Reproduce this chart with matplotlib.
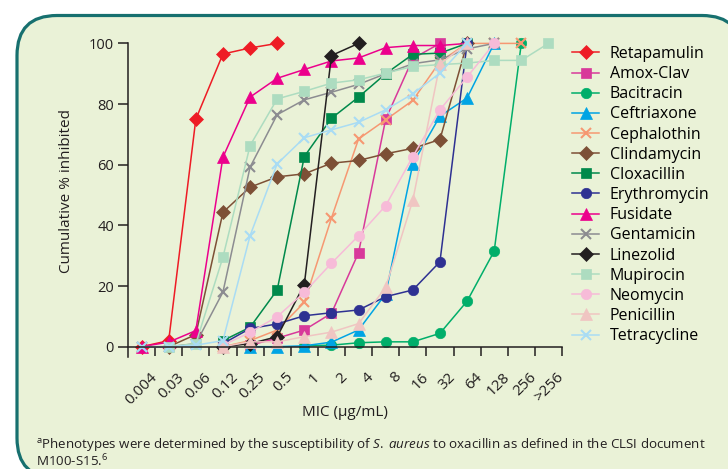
import numpy as np
import matplotlib
matplotlib.use("Agg")
import matplotlib.pyplot as plt
from matplotlib.patches import FancyBboxPatch
from matplotlib.transforms import IdentityTransform, ScaledTranslation

plt.rcParams['font.family'] = ['Open Sans', 'DejaVu Sans']
plt.rcParams['mathtext.fontset'] = 'custom'
plt.rcParams['mathtext.rm'] = 'Open Sans'
plt.rcParams['mathtext.it'] = 'Open Sans:italic'

# MIC categories (x axis)
mic_labels = ['0.004', '0.03', '0.06', '0.12', '0.25', '0.5', '1', '2', '4',
              '8', '16', '32', '64', '128', '256', '>256']

# cumulative % inhibited per MIC step (None = not tested)
N = None
retapamulin  = [0, 2, 75, 96.5, 98.5, 100, N, N, N, N, N, N, N, N, N, N]
amox_clav    = [N, N, N, N, 0.5, 2.8, 5.5, 11, 31, 75, 95, 100, N, N, N, N]
bacitracin   = [N, N, N, N, N, N, 0.3, 0.5, 1.3, 1.6, 1.6, 4.4, 15, 31.5, 100, N]
ceftriaxone  = [N, N, N, N, 0, 0, 0.3, 1.5, 5.5, 17.4, 60.3, 76, 82, 100, N, N]
cephalothin  = [N, N, N, 0, 2, 5.5, 14.6, 42.4, 68.5, 74.8, 81.2, 94, 100, 100, 100, N]
clindamycin  = [N, 0, 4, 44.3, 52.6, 56, 57, 60.5, 61.4, 63.6, 65.4, 68.3, 100, N, N, N]
cloxacillin  = [N, N, N, 2, 6.4, 18.7, 62.7, 75.3, 82.3, 90, 96.4, 96.8, 100, N, N, N]
erythromycin = [N, N, N, 1, 6, 7.5, 10.2, 11.2, 12.1, 16.5, 18.7, 28, 100, N, N, N]
fusidate     = [0, 1.5, 5.3, 62.5, 82.3, 88.5, 91.4, 94.2, 95.2, 98.6, 99.3, 99.3, 100, N, N, N]
gentamicin   = [0, 0, 1, 18, 59.2, 76.5, 81.4, 83.9, 86.5, 90, 93.3, 94.6, 98.2, 100, N, N]
linezolid    = [N, N, N, 0, 1, 3.3, 20.5, 96, 100, N, N, N, N, N, N, N]
mupirocin    = [N, 0, 1, 29.5, 66.3, 81.7, 84.2, 86.9, 88, 90.2, 92.4, 93, 93.5, 94.4, 94.4, 100]
neomycin     = [N, N, N, 0.5, 4.7, 9.9, 17.9, 27.5, 36.6, 46.5, 62.7, 78.1, 88.9, 100, N, N]
penicillin   = [N, N, N, 0, 1.6, 1.6, 3.3, 4.8, 7.6, 19.6, 48.3, 93.2, 100, N, N, N]
tetracycline = [0, 0, 0.5, 2, 36.6, 60.3, 68.9, 71.5, 74, 78.1, 83.4, 90.2, 100, N, N, N]

# (name, values, color, marker)
series = [
    ("Retapamulin", retapamulin, "#ee1c25", "D"),
    ("Amox-Clav", amox_clav, "#d8399a", "s"),
    ("Bacitracin", bacitracin, "#00ae6a", "o"),
    ("Ceftriaxone", ceftriaxone, "#00a4e4", "^"),
    ("Cephalothin", cephalothin, "#f69872", "x"),
    ("Clindamycin", clindamycin, "#7d5036", "D"),
    ("Cloxacillin", cloxacillin, "#00894b", "s"),
    ("Erythromycin", erythromycin, "#2e3192", "o"),
    ("Fusidate", fusidate, "#ec008c", "^"),
    ("Gentamicin", gentamicin, "#8c8c91", "x"),
    ("Linezolid", linezolid, "#231f20", "D"),
    ("Mupirocin", mupirocin, "#addcc0", "s"),
    ("Neomycin", neomycin, "#f7bbd8", "o"),
    ("Penicillin", penicillin, "#f0c5c2", "^"),
    ("Tetracycline", tetracycline, "#a9dcf4", "x"),
]
msizes = {"D": 7, "s": 7, "o": 7.5, "^": 8, "x": 6.5}

fig = plt.figure(figsize=(7.28, 4.69), dpi=100)

# rounded panel behind everything
panel = FancyBboxPatch((17, -9), 725, 462.5, boxstyle="round,pad=0,rounding_size=40",
                       transform=IdentityTransform(), facecolor="#eaf2d7",
                       edgecolor="#17706f", linewidth=2.3, zorder=-10)
fig.patches.append(panel)

ax = fig.add_axes([128 / 728, (469 - 356.7) / 469, 434 / 728, 313.3 / 469])
ax.set_facecolor("none")
ax.set_zorder(5)

x = np.arange(len(mic_labels))
for name, vals, col, mk in series:
    y = np.array([np.nan if v is None else v for v in vals], dtype=float)
    ax.plot(x, y, color=col, lw=1.1, marker=mk, ms=msizes[mk],
            mew=1.5 if mk == "x" else 0.5, mec=col, label=name, clip_on=False)

ax.set_xlim(-0.5, 15.5)
ax.set_ylim(-3.3, 100)
ax.spines['top'].set_visible(False)
ax.spines['right'].set_visible(False)
ax.spines['bottom'].set_position(('data', 0))
for s in ('left', 'bottom'):
    ax.spines[s].set_linewidth(1.1)
    ax.spines[s].set_color("#231f20")

ax.set_yticks([0, 20, 40, 60, 80, 100])
ax.set_xticks(x + 0.5)
ax.set_xticklabels(mic_labels, rotation=45, ha='right')
ax.tick_params(axis='x', direction='out', length=6.5, width=1.1, pad=10,
               labelsize=11, colors="#231f20")
ax.tick_params(axis='y', direction='out', length=7, width=1.1, pad=3,
               labelsize=10.5, colors="#231f20")
# nudge the slanted labels a little to the right, as in the original
shift = ScaledTranslation(0.05, 0, fig.dpi_scale_trans)
for lab in ax.get_xticklabels():
    lab.set_transform(lab.get_transform() + shift)

fig.text(67 / 728, 1 - 191 / 469, "Cumulative % inhibited", rotation=90,
         ha='center', va='center', fontsize=11, color="#231f20")
fig.text(345 / 728, 1 - 412 / 469, "MIC (μg/mL)", ha='center', va='center',
         fontsize=11, color="#231f20")

fig.text(36 / 728, 1 - 448 / 469,
         r"$^{\mathrm{a}}$Phenotypes were determined by the susceptibility of "
         r"$\mathit{S.}$ $\mathit{aureus}$ to oxacillin as defined in the CLSI document",
         ha='left', va='baseline', fontsize=9.6, color="#231f20")
fig.text(36 / 728, 1 - 466 / 469, r"M100-S15.$^{\mathrm{6}}$",
         ha='left', va='baseline', fontsize=9.6, color="#231f20")

ax.legend(loc='upper left', bbox_to_anchor=(572 / 728, 1 - 46 / 469),
          bbox_transform=fig.transFigure, frameon=False, fontsize=11.5,
          handlelength=1.7, handletextpad=0.65, labelspacing=0.26,
          borderpad=0, borderaxespad=0)

fig.savefig("out.png", dpi=100)
